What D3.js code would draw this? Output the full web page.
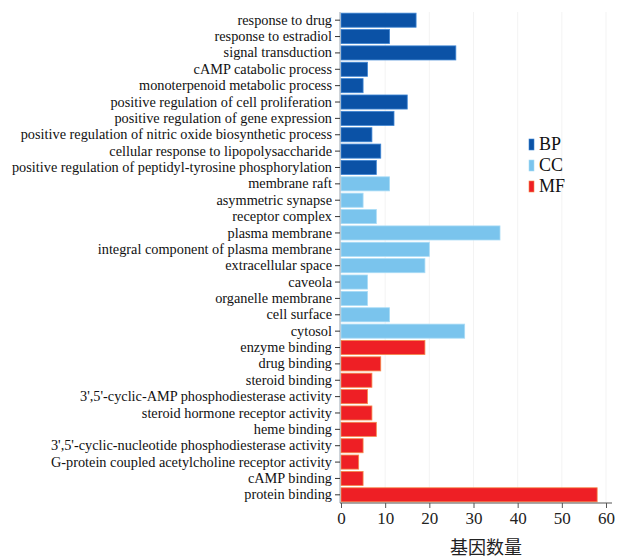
<!DOCTYPE html>
<html><head><meta charset="utf-8">
<script src="https://cdn.jsdelivr.net/npm/d3@7"></script>
<style>body{margin:0;background:#fff}svg{display:block}
.serif{font-family:"Liberation Serif","Times New Roman",Times,serif}</style>
</head><body>
<svg id="c" width="622" height="558"></svg>
<script>
const categories = ["response to drug","response to estradiol","signal transduction","cAMP catabolic process","monoterpenoid metabolic process","positive regulation of cell proliferation","positive regulation of gene expression","positive regulation of nitric oxide biosynthetic process","cellular response to lipopolysaccharide","positive regulation of peptidyl-tyrosine phosphorylation","membrane raft","asymmetric synapse","receptor complex","plasma membrane","integral component of plasma membrane","extracellular space","caveola","organelle membrane","cell surface","cytosol","enzyme binding","drug binding","steroid binding","3',5'-cyclic-AMP phosphodiesterase activity","steroid hormone receptor activity","heme binding","3',5'-cyclic-nucleotide phosphodiesterase activity","G-protein coupled acetylcholine receptor activity","cAMP binding","protein binding"];
const groups = ["BP","BP","BP","BP","BP","BP","BP","BP","BP","BP","CC","CC","CC","CC","CC","CC","CC","CC","CC","CC","MF","MF","MF","MF","MF","MF","MF","MF","MF","MF"];
const values = [17,11,26,6,5,15,12,7,9,8,11,5,8,36,20,19,6,6,11,28,19,9,7,6,7,8,5,4,5,58];
const legendLabels = ["BP","CC","MF"];
const xTicks = [0,10,20,30,40,50,60];
const xTitle = "基因数量";

const fill = d3.scaleOrdinal().domain(legendLabels).range(["#0b52a6","#7ac4ed","#ee1f25"]);
const edge = d3.scaleOrdinal().domain(legendLabels).range(["#3f86d4","#a9dcf6","#f5894a"]);

const svg = d3.select("#c");
const mLeft = 341, mRight = 606, mTop = 12, mBottom = 503;
const x = d3.scaleLinear().domain([0,60]).range([mLeft,mRight]);
const y = d3.scaleBand().domain(categories).range([mTop,mBottom]).paddingInner(0.14).paddingOuter(0.07);

// faint grid
svg.append("g").selectAll("line").data(xTicks.slice(1)).join("line")
  .attr("x1",d=>x(d)).attr("x2",d=>x(d)).attr("y1",mTop).attr("y2",mBottom)
  .attr("stroke","#f3f3f3").attr("stroke-width",1);

svg.append("g").selectAll("rect").data(categories).join("rect")
  .attr("x",x(0)).attr("y",d=>y(d))
  .attr("width",(d,i)=>x(values[i])-x(0)).attr("height",y.bandwidth())
  .attr("fill",(d,i)=>fill(groups[i])).attr("stroke",(d,i)=>edge(groups[i])).attr("stroke-width",0.8);

const yAxis = svg.append("g").attr("transform",`translate(${mLeft-1},0)`)
  .call(d3.axisLeft(y).tickSize(5).tickPadding(3));
yAxis.attr("font-family",null).attr("font-size",null);
yAxis.select(".domain").attr("stroke","#9aa6b2").attr("d",`M0,${mTop}V${mBottom}`);
yAxis.selectAll(".tick line").attr("stroke","#333");
yAxis.selectAll("text").attr("class","serif").style("font-size","14.3px").attr("fill","#111");

const xAxis = svg.append("g").attr("transform",`translate(0,${mBottom})`)
  .call(d3.axisBottom(x).tickValues(xTicks).tickSize(5).tickPadding(4));
xAxis.attr("font-family",null).attr("font-size",null);
xAxis.select(".domain").attr("stroke","#555").attr("d",`M${mLeft-1},0H612`);
xAxis.selectAll(".tick line").attr("stroke","#555");
xAxis.selectAll("text").attr("class","serif").style("font-size","17px").attr("fill","#222");

svg.append("text").attr("x",486).attr("y",554).attr("text-anchor","middle")
  .style("font-family","'Noto Sans CJK SC',serif").style("font-size","18px").attr("fill","#222").text(xTitle);

const lg = svg.append("g").selectAll("g").data(legendLabels).join("g")
  .attr("transform",(d,i)=>`translate(529,${139+i*21})`);
lg.append("rect").attr("width",5).attr("height",11).attr("fill",d=>fill(d)).attr("stroke",d=>edge(d)).attr("stroke-width",0.6);
lg.append("text").attr("x",10).attr("y",11).attr("class","serif")
  .style("font-size","18px").attr("fill","#111").text(d=>d);
</script>
</body></html>
